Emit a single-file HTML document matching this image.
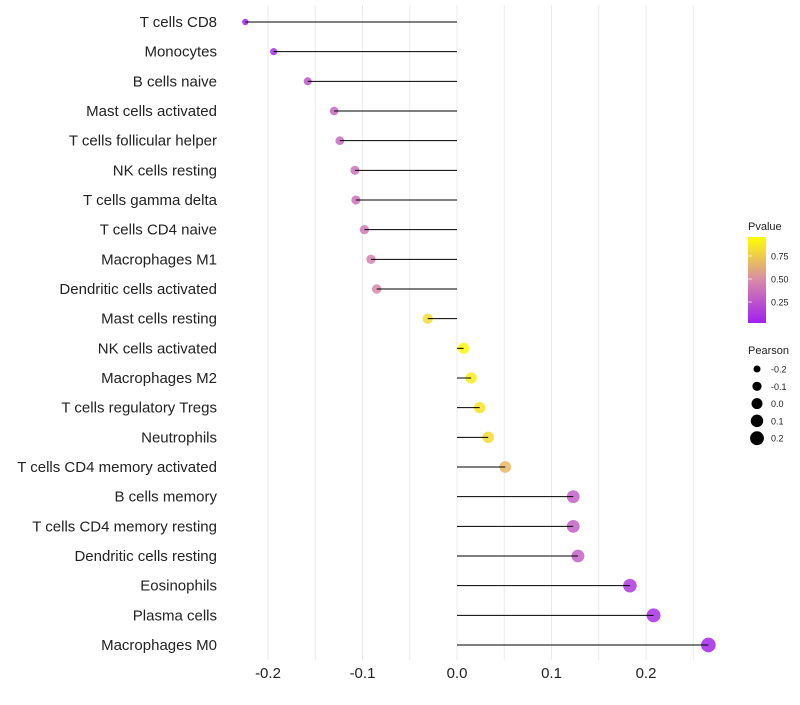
<!DOCTYPE html>
<html><head><meta charset="utf-8"><style>
body{margin:0;background:#fff;font-family:"Liberation Sans",sans-serif;}
</style></head><body>
<svg id="c" width="800" height="700" xmlns="http://www.w3.org/2000/svg">
<defs><linearGradient id="pg" x1="0" y1="1" x2="0" y2="0">
<stop offset="0" stop-color="#a020f0"/><stop offset="0.5" stop-color="#d88aa8"/><stop offset="1" stop-color="#ffff00"/>
</linearGradient></defs>
<g id="grid"></g>
<g id="marks"></g>
<g id="ylab"></g>
<g id="xlab"></g>
<g>
<text x="748" y="230" font-size="11" fill="#222">Pvalue</text>
<rect x="748" y="237" width="18" height="86" fill="url(#pg)"/>
<g id="cbt"></g>
</g>
<g id="sizeleg">
<text x="748" y="354" font-size="11" fill="#222">Pearson</text>
</g>
</svg>
<script>
const cells=["T cells CD8","Monocytes","B cells naive","Mast cells activated","T cells follicular helper","NK cells resting","T cells gamma delta","T cells CD4 naive","Macrophages M1","Dendritic cells activated","Mast cells resting","NK cells activated","Macrophages M2","T cells regulatory  Tregs ","Neutrophils","T cells CD4 memory activated","B cells memory","T cells CD4 memory resting","Dendritic cells resting","Eosinophils","Plasma cells","Macrophages M0"];
const pearson=[-0.224,-0.194,-0.158,-0.130,-0.124,-0.108,-0.107,-0.098,-0.091,-0.085,-0.031,0.007,0.015,0.024,0.033,0.051,0.123,0.123,0.128,0.183,0.208,0.266];
const pvalue=[0.03,0.08,0.25,0.33,0.35,0.38,0.38,0.42,0.46,0.5,0.85,0.97,0.92,0.88,0.84,0.7,0.3,0.3,0.3,0.12,0.07,0.03];
const xTicks=[-0.2,-0.1,0.0,0.1,0.2];
const xTickLabels=["-0.2","-0.1","0.0","0.1","0.2"];
const legendVals=[-0.2,-0.1,0.0,0.1,0.2];
const legendLabels=["-0.2","-0.1","0.0","0.1","0.2"];
const cbVals=[0.25,0.5,0.75];
const cbLabels=["0.25","0.50","0.75"];
const NS="http://www.w3.org/2000/svg";
const X=v=>457+v*945;
const Y=i=>22+i*(623/21);
const R=v=>Math.sqrt(Math.max(4,13+88*(v+0.194)));
function lerp(a,b,t){return a.map((x,i)=>Math.round(x+(b[i]-x)*t));}
function col(p){const a=[160,32,240],m=[216,138,168],b=[255,255,0];const c=p<0.5?lerp(a,m,p/0.5):lerp(m,b,(p-0.5)/0.5);return `rgb(${c})`;}
function mk(t,at,par){const e=document.createElementNS(NS,t);for(const k in at)e.setAttribute(k,at[k]);document.getElementById(par).appendChild(e);return e;}
for(let v=-0.2;v<=0.251;v+=0.05){const g=mk('line',{x1:X(v),x2:X(v),y1:5,y2:660,stroke:'#ebebeb','stroke-width':1},'grid');

}
cells.forEach((c,i)=>{
const d=mk('circle',{cx:X(pearson[i]),cy:Y(i),r:R(pearson[i]),fill:col(pvalue[i]),'fill-opacity':0.85},'marks');


const l=mk('line',{x1:X(0),x2:X(pearson[i]),y1:Y(i),y2:Y(i),stroke:'#000','stroke-width':1},'marks');


const t=mk('text',{x:217,y:Y(i)+5,'text-anchor':'end','font-size':15,fill:'#222'},'ylab');
t.textContent=c;


});
xTicks.forEach((v,i)=>{const t=mk('text',{x:X(v),y:678,'text-anchor':'middle','font-size':15,fill:'#222'},'xlab');
t.textContent=xTickLabels[i];

});
cbVals.forEach((v,i)=>{const y=325-v*92;
const l=mk('line',{x1:748,x2:752,y1:y,y2:y,stroke:'#fff','stroke-opacity':0.7},'cbt');


const t=mk('text',{x:771,y:y+3.5,'font-size':9,fill:'#222'},'cbt');t.textContent=cbLabels[i];

});
legendVals.forEach((v,i)=>{const y=369+i*17.3;
const c=mk('circle',{cx:757,cy:y,r:Math.max(2.5,R(v)),fill:'#000'},'sizeleg');


const t=mk('text',{x:771,y:y+3.5,'font-size':9,fill:'#222'},'sizeleg');t.textContent=legendLabels[i];

});
</script>
</body></html>
